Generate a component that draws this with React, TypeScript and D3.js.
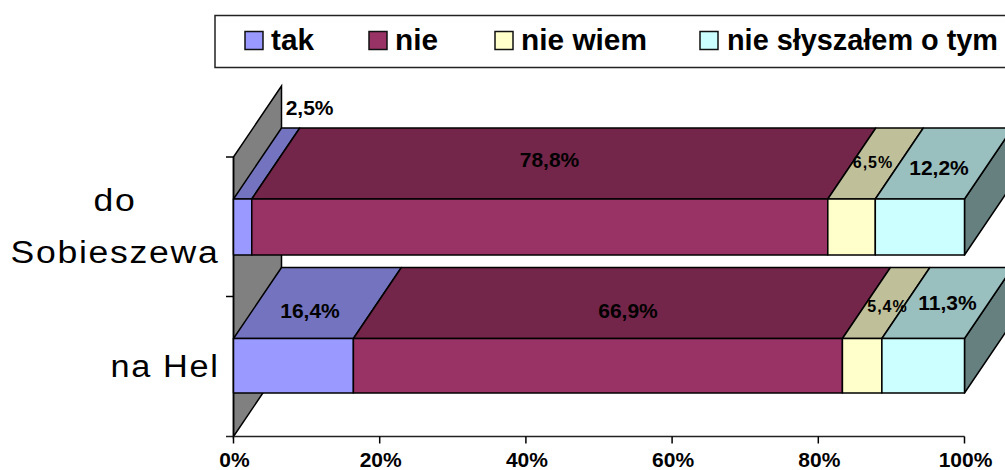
import React from "react";
import * as d3 from "d3";

const categories = ["do Sobieszewa", "na Hel"];
const seriesNames = ["tak", "nie", "nie wiem", "nie słyszałem o tym"];
const doSobieszewa = [2.5, 78.8, 6.5, 12.2];
const naHel = [16.4, 66.9, 5.4, 11.3];
const valueLabels = [["2,5%", "78,8%", "6,5%", "12,2%"], ["16,4%", "66,9%", "5,4%", "11,3%"]];
const xTicks = [0, 20, 40, 60, 80, 100];
const frontColors = ["#9999ff", "#993366", "#ffffcc", "#ccffff"];
const topColors = ["#7373bf", "#732649", "#bfbf99", "#99bfbf"];
const sideColor = "#668080";
const wallColor = "#808080";

const W = 1005, H = 470;
const DX = 48, DY = 71;
const FONT = "'Liberation Sans', Arial, sans-serif";
const x = d3.scaleLinear().domain([0, 100]).range([233.5, 964.5]);
const barTops = [199, 338.5];
const barBottoms = [255, 393];
const axisY = 436.5;
const wallTop = 157;
const labelPos = [
  [[309.6, 107.5, 21, 0], [549.5, 159, 21, 0], [873, 162.5, 16, 1], [939, 167, 21, 0]],
  [[310, 310, 21, 0], [628, 310, 21, 0], [887.5, 306.5, 16, 1], [947.5, 302, 21, 0]],
];
const legendSwatch = [245, 369, 495, 700];
const legendText = [271, 395, 521, 727];
const legendWidths = [43, 43, 126, 271];
const categoryLines = [
  { text: "do", cx: 115, y: 211, len: 43 },
  { text: "Sobieszewa", cx: 115, y: 263, len: 209 },
  { text: "na Hel", cx: 165, y: 377, len: 109 },
];

const pts = (p: number[][]) => p.map((q) => q.join(",")).join(" ");

export default function App() {
  const rows = [doSobieszewa, naHel];
  return (
    <svg width={W} height={H} style={{ position: "absolute", left: 0, top: 0 }} fontFamily={FONT}>
      <rect width={W} height={H} fill="#fff" />
      <rect x={215} y={15.5} width={W} height={52} fill="#fff" stroke="#222" strokeWidth={1.5} />
      {seriesNames.map((s, i) => (
        <g key={s}>
          <rect x={legendSwatch[i]} y={31.5} width={18} height={18} fill={frontColors[i]} stroke="#111" strokeWidth={1.5} />
          <text x={legendText[i]} y={50} fontSize={29} fontWeight="bold" fill="#000" textLength={legendWidths[i]} lengthAdjust="spacingAndGlyphs">{s}</text>
        </g>
      ))}
      <polygon
        points={pts([[x(0), wallTop], [x(0) + DX, wallTop - DY], [x(0) + DX, axisY - DY], [x(0), axisY]])}
        fill={wallColor}
        stroke="#000"
        strokeWidth={1.5}
      />
      <line x1={226} x2={x(0)} y1={wallTop} y2={wallTop} stroke="#000" strokeWidth={1.5} />
      <line x1={226} x2={x(0)} y1={296.5} y2={296.5} stroke="#000" strokeWidth={1.5} />
      <line x1={226} x2={x(100)} y1={axisY} y2={axisY} stroke="#222" strokeWidth={1.5} />
      <line x1={x(0)} x2={x(0)} y1={wallTop} y2={axisY} stroke="#000" strokeWidth={1.5} />
      {xTicks.map((t) => (
        <g key={t}>
          <line x1={x(t)} x2={x(t)} y1={axisY} y2={axisY + 7} stroke="#000" strokeWidth={1.5} />
          <text x={x(t) + 1} y={467} textAnchor="middle" fontSize={21} fontWeight="bold">{t}%</text>
        </g>
      ))}
      {rows.map((vals, r) => {
        const y0 = barTops[r], y1 = barBottoms[r];
        let cum = 0;
        const segs = vals.map((v) => {
          const s = { a: cum, b: cum + v };
          cum += v;
          return s;
        });
        return (
          <g key={r} stroke="#000" strokeWidth={1.5} strokeLinejoin="round">
            <polygon
              points={pts([[x(100), y0], [x(100) + DX, y0 - DY], [x(100) + DX, y1 - DY], [x(100), y1]])}
              fill={sideColor}
            />
            {segs.map((s, i) => (
              <polygon
                key={"t" + i}
                points={pts([[x(s.a), y0], [x(s.a) + DX, y0 - DY], [x(s.b) + DX, y0 - DY], [x(s.b), y0]])}
                fill={topColors[i]}
              />
            ))}
            {segs.map((s, i) => (
              <rect key={"f" + i} x={x(s.a)} y={y0} width={x(s.b) - x(s.a)} height={y1 - y0} fill={frontColors[i]} />
            ))}
          </g>
        );
      })}
      {valueLabels.map((row, r) =>
        row.map((l, i) => {
          const [lx, ly, fs, ls] = labelPos[r][i];
          return (
            <text key={l} x={lx} y={ly} dy="0.36em" textAnchor="middle" fontSize={fs} letterSpacing={ls} fontWeight="bold" fill="#000">{l}</text>
          );
        })
      )}
      <g fontSize={31} fill="#000" textAnchor="middle" letterSpacing={1.5}>
        {categoryLines.map((c) => (
          <text key={c.text} x={c.cx} y={c.y} textLength={c.len} lengthAdjust="spacingAndGlyphs">{c.text}</text>
        ))}
      </g>
    </svg>
  );
}
